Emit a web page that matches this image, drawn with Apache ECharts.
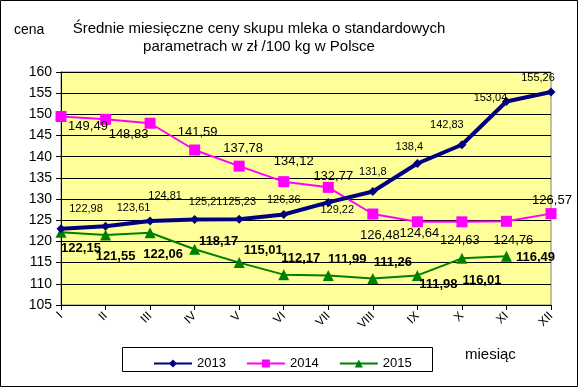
<!DOCTYPE html>
<html><head><meta charset="utf-8">
<script src="https://cdn.jsdelivr.net/npm/echarts@6/dist/echarts.min.js"></script>
<style>html,body{margin:0;padding:0;background:#fff}#c{width:579px;height:388px}</style>
</head><body><div id="c"></div>
<script>
const months = ['I','II','III','IV','V','VI','VII','VIII','IX','X','XI','XII'];
const yTicks = [105,110,115,120,125,130,135,140,145,150,155,160];
const v2013 = [122.98,123.61,124.81,125.21,125.23,126.36,129.22,131.8,138.4,142.83,153.04,155.26];
const v2014 = [149.49,148.83,147.9,141.59,137.78,134.12,132.77,126.48,124.64,124.63,124.76,126.57];
const v2015 = [122.15,121.55,122.06,118.17,115.01,112.17,111.99,111.26,111.98,116.01,116.49,null];

// label offsets (styling only)
const off2013 = [[25,-20],[28,-18],[15,-25],[11,-17],[0,-17],[0,-15],[9,8],[0,-19],[-8,-17],[-15,-20],[-16,-4],[-13,-14]];
const off2014 = [[27,10],[23,15],[0,0],[3,-18],[4,-18],[10,-20],[5,-11],[7,21],[2,12],[-2,19],[7,19],[1,-13]];
const off2015 = [[20,16],[10,22],[13,22],[24,-8],[24,-12],[17,-16],[19,-16],[20,-16],[21,9],[20,22],[29,1],[0,0]];

function fmt(v){return String(v).replace('.',',');}
function build(vals, offs, hide){
  return vals.map((v,i)=>({value:v, label:(hide && hide.indexOf(i)>=0)?{show:false}:{offset:offs[i]}}));
}
const chart = echarts.init(document.getElementById('c'));
const font = 'Liberation Sans, Arial, sans-serif';
chart.setOption({
  animation:false,
  backgroundColor:'#fff',
  graphic:[
    {type:'rect',shape:{x:0.5,y:0.5,width:577,height:386},style:{fill:'none',stroke:'#000',lineWidth:1}},
    {type:'rect',shape:{x:122.5,y:347.5,width:310,height:24},style:{fill:'#fff',stroke:'#000',lineWidth:1}},
    {type:'text',left:14,top:23,style:{text:'cena',font:'14px '+font,fill:'#000'}},
    {type:'text',left:465,top:347,style:{text:'miesiąc',font:'15px '+font,fill:'#000'}},
    {type:'text',x:259,y:20,style:{text:'Średnie miesięczne ceny skupu mleka o standardowych\nparametrach w zł /100 kg w Polsce',font:'15px '+font,fill:'#000',textAlign:'center',lineHeight:18}}
  ],
  legend:{
    data:['2013','2014','2015'],
    left:148, top:352,
    itemWidth:38, itemHeight:10, itemGap:20,
    textStyle:{fontFamily:font,fontSize:13,color:'#000'}
  },
  grid:{left:61,right:28,top:72,bottom:83,show:true,backgroundColor:'#FFFF99',borderColor:'#808080',borderWidth:1},
  xAxis:{
    type:'category',data:months,boundaryGap:false,
    axisLine:{lineStyle:{color:'#000'}},
    axisTick:{show:true,alignWithLabel:true,length:5,lineStyle:{color:'#000'}},
    axisLabel:{rotate:45,fontFamily:font,fontSize:12,color:'#000',margin:9,interval:0},
    splitLine:{show:false}
  },
  yAxis:{
    type:'value',min:105,max:160,interval:5,
    axisLine:{show:true,lineStyle:{color:'#000'}},
    axisTick:{show:true,length:5,lineStyle:{color:'#000'}},
    axisLabel:{fontFamily:font,fontSize:14,color:'#000',margin:9},
    splitLine:{lineStyle:{color:'#000',width:1}}
  },
  series:[
    {name:'2013',type:'line',data:build(v2013,off2013),symbol:'diamond',symbolSize:9,
     lineStyle:{color:'#000080',width:4},itemStyle:{color:'#000080'},
     label:{show:true,position:'inside',formatter:p=>fmt(p.value),fontFamily:font,fontSize:11,color:'#000'},z:3},
    {name:'2014',type:'line',data:build(v2014,off2014,[2]),symbol:'rect',symbolSize:11,
     lineStyle:{color:'#FF00FF',width:2},itemStyle:{color:'#FF00FF'},
     label:{show:true,position:'inside',formatter:p=>fmt(p.value),fontFamily:font,fontSize:13,color:'#000'},z:2},
    {name:'2015',type:'line',data:build(v2015,off2015),symbol:'triangle',symbolSize:11,
     lineStyle:{color:'#008000',width:2},itemStyle:{color:'#008000'},
     label:{show:true,position:'inside',formatter:p=>fmt(p.value),fontFamily:font,fontSize:13,fontWeight:'bold',color:'#000'},z:2}
  ]
});
</script></body></html>
